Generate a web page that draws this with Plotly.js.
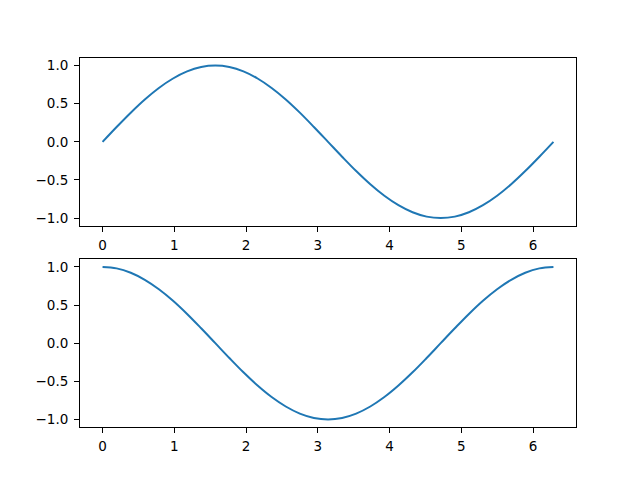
<!DOCTYPE html>
<html>
<head>
<meta charset="utf-8">
<script src="https://cdn.plot.ly/plotly-3.0.1.min.js"></script>
<style>html,body{margin:0;padding:0;background:#fff}</style>
</head>
<body>
<div id="myDiv" style="width:640px;height:480px"></div>
<script>
// x samples (0 .. 2*pi)
var xVals = [0, 0.196, 0.393, 0.589, 0.785, 0.982, 1.178, 1.374, 1.571, 1.767, 1.963,
  2.160, 2.356, 2.553, 2.749, 2.945, 3.142, 3.338, 3.534, 3.731, 3.927, 4.123, 4.320,
  4.516, 4.712, 4.909, 5.105, 5.301, 5.498, 5.694, 5.890, 6.087, 6.283];
// upper panel
var sinVals = [0, 0.195, 0.383, 0.556, 0.707, 0.831, 0.924, 0.981, 1.0, 0.981, 0.924,
  0.831, 0.707, 0.556, 0.383, 0.195, 0, -0.195, -0.383, -0.556, -0.707, -0.831, -0.924,
  -0.981, -1.0, -0.981, -0.924, -0.831, -0.707, -0.556, -0.383, -0.195, 0];
// lower panel
var cosVals = [1.0, 0.981, 0.924, 0.831, 0.707, 0.556, 0.383, 0.195, 0, -0.195, -0.383,
  -0.556, -0.707, -0.831, -0.924, -0.981, -1.0, -0.981, -0.924, -0.831, -0.707, -0.556,
  -0.383, -0.195, 0, 0.195, 0.383, 0.556, 0.707, 0.831, 0.924, 0.981, 1.0];

var lineStyle = {color: '#1f77b4', width: 2, shape: 'spline'};

var data = [
  {x: xVals, y: sinVals, type: 'scatter', mode: 'lines', line: lineStyle, xaxis: 'x', yaxis: 'y'},
  {x: xVals, y: cosVals, type: 'scatter', mode: 'lines', line: lineStyle, xaxis: 'x2', yaxis: 'y2'}
];

var tickFont = {family: 'DejaVu Sans', size: 13.5, color: '#000'};

function xax(anchor) {
  return {
    anchor: anchor, range: [-0.3142, 6.5973], dtick: 1, tick0: 0,
    showgrid: false, zeroline: false, showline: true, mirror: true,
    linecolor: '#000', linewidth: 1, ticks: 'outside', ticklen: 5, tickcolor: '#000',
    ticklabelstandoff: 2, tickfont: tickFont
  };
}
function yax(anchor, domain) {
  return {
    anchor: anchor, domain: domain, range: [-1.1, 1.1], dtick: 0.5, tick0: 0,
    tickformat: '.1f',
    showgrid: false, zeroline: false, showline: true, mirror: true,
    linecolor: '#000', linewidth: 1, ticks: 'outside', ticklen: 5, tickcolor: '#000',
    ticklabelstandoff: 3, tickfont: tickFont
  };
}

var layout = {
  width: 640, height: 480,
  margin: {l: 80, r: 64, t: 57.6, b: 52.8},
  showlegend: false,
  paper_bgcolor: '#fff', plot_bgcolor: '#fff',
  xaxis: xax('y'),
  yaxis: yax('x', [0.5455, 1]),
  xaxis2: xax('y2'),
  yaxis2: yax('x2', [0, 0.4545])
};

Plotly.newPlot('myDiv', data, layout, {displayModeBar: false, staticPlot: true});
</script>
</body>
</html>
